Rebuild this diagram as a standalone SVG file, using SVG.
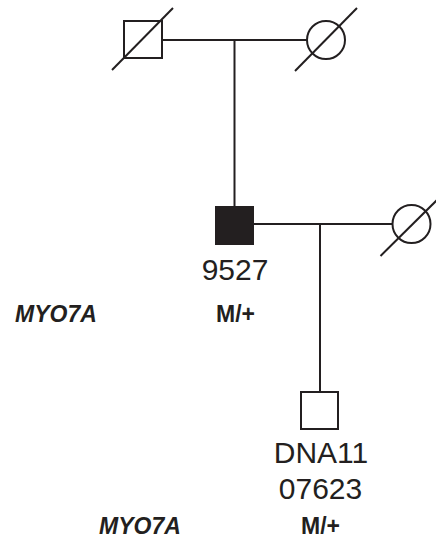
<svg xmlns="http://www.w3.org/2000/svg" width="436" height="546" viewBox="0 0 436 546">
<style>
.s{fill:#fff;stroke:#231f20;stroke-width:2}
.a{fill:#231f20;stroke:#231f20;stroke-width:2}
.l{stroke:#231f20;stroke-width:2;fill:none}
.t{font-family:"Liberation Sans",Arial,sans-serif;font-size:30px;fill:#231f20;text-anchor:middle}
.g{font-family:"Liberation Sans",Arial,sans-serif;font-size:23px;font-weight:bold;fill:#231f20}
.i{font-style:italic}
</style>
<rect width="436" height="546" fill="#fff"/>
<g id="connectors">
<line class="l" x1="162" y1="40" x2="307" y2="40"/>
<line class="l" x1="234.5" y1="40" x2="234.5" y2="207"/>
<line class="l" x1="253" y1="224" x2="393" y2="224"/>
<line class="l" x1="320" y1="224" x2="320" y2="392"/>
</g>
<g id="grandfather">
<rect class="s" x="124" y="21" width="38" height="37"/>
<line class="l" x1="112" y1="70" x2="173" y2="8"/>
</g>
<g id="grandmother">
<circle class="s" cx="326" cy="40" r="19"/>
<line class="l" x1="295" y1="71" x2="357" y2="8"/>
</g>
<g id="father">
<rect class="a" x="216" y="207" width="37" height="37"/>
<text class="t" x="235" y="280">9527</text>
</g>
<g id="mother">
<circle class="s" cx="411.5" cy="224" r="19"/>
<line class="l" x1="380.5" y1="256" x2="437" y2="200"/>
</g>
<g id="child">
<rect class="s" x="301" y="392" width="37" height="37"/>
<text class="t" x="321" y="463">DNA11</text>
<text class="t" x="320.5" y="499">07623</text>
</g>
<g id="labels">
<text class="g i" x="15" y="322">MYO7A</text>
<text class="g" x="216" y="322">M/+</text>
<text class="g i" x="99" y="534">MYO7A</text>
<text class="g" x="301" y="534">M/+</text>
</g>
</svg>
